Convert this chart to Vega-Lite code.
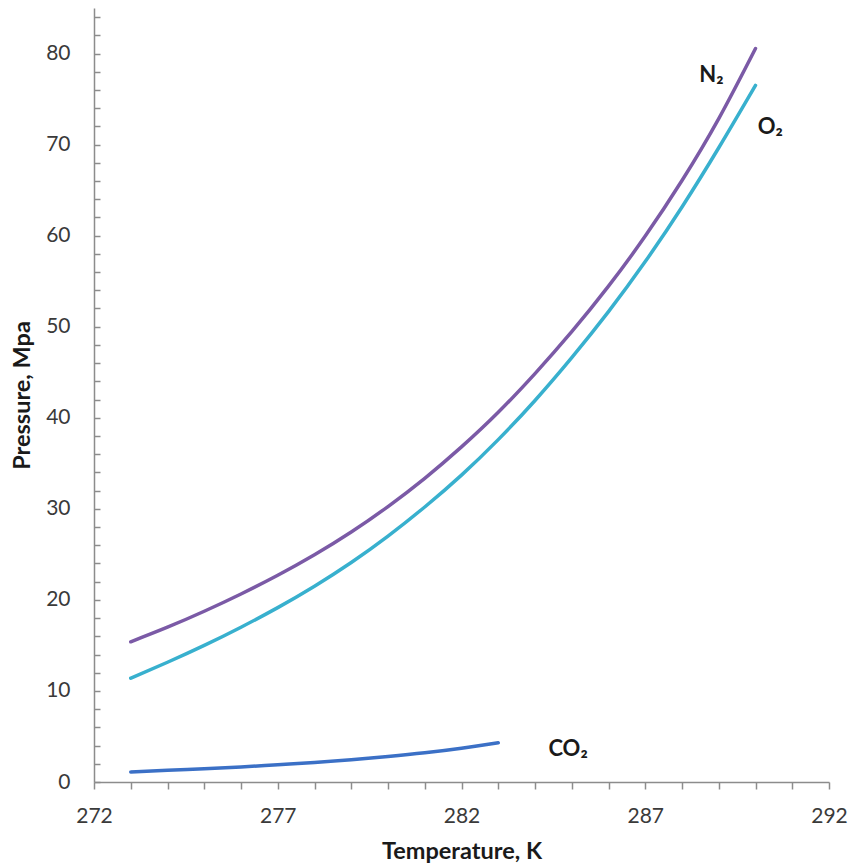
{
  "$schema": "https://vega.github.io/schema/vega-lite/v6.json",
  "width": 735,
  "height": 774,
  "autosize": {"type": "none"},
  "padding": {"left": 94, "top": 8, "right": 20, "bottom": 86},
  "background": "white",
  "config": {
    "view": {"stroke": null},
    "font": "Lato",
    "axis": {
      "grid": false,
      "domainColor": "#8c8c8c",
      "domainWidth": 1.5,
      "tickColor": "#8c8c8c",
      "tickWidth": 1.5,
      "tickCount": 200,
      "format": "d",
      "labelFlush": false,
      "labelFont": "Lato",
      "labelFontSize": 21,
      "labelColor": "#3a3a3a",
      "titleFont": "Lato",
      "titleFontSize": 23.5,
      "titleFontWeight": "bold",
      "titleColor": "#1a1a1a",
      "labelOverlap": false
    }
  },
  "datasets": {
    "curves": [
      {"gas": "N2", "T": 273, "P": 15.4},
      {"gas": "N2", "T": 274, "P": 17.0},
      {"gas": "N2", "T": 275, "P": 18.75},
      {"gas": "N2", "T": 276, "P": 20.65},
      {"gas": "N2", "T": 277, "P": 22.7},
      {"gas": "N2", "T": 278, "P": 24.95},
      {"gas": "N2", "T": 279, "P": 27.45},
      {"gas": "N2", "T": 280, "P": 30.25},
      {"gas": "N2", "T": 281, "P": 33.35},
      {"gas": "N2", "T": 282, "P": 36.8},
      {"gas": "N2", "T": 283, "P": 40.6},
      {"gas": "N2", "T": 284, "P": 44.85},
      {"gas": "N2", "T": 285, "P": 49.45},
      {"gas": "N2", "T": 286, "P": 54.45},
      {"gas": "N2", "T": 287, "P": 59.95},
      {"gas": "N2", "T": 288, "P": 66.05},
      {"gas": "N2", "T": 289, "P": 72.85},
      {"gas": "N2", "T": 290, "P": 80.55},
      {"gas": "O2", "T": 273, "P": 11.4},
      {"gas": "O2", "T": 274, "P": 13.15},
      {"gas": "O2", "T": 275, "P": 15.0},
      {"gas": "O2", "T": 276, "P": 17.0},
      {"gas": "O2", "T": 277, "P": 19.15},
      {"gas": "O2", "T": 278, "P": 21.5},
      {"gas": "O2", "T": 279, "P": 24.1},
      {"gas": "O2", "T": 280, "P": 27.0},
      {"gas": "O2", "T": 281, "P": 30.2},
      {"gas": "O2", "T": 282, "P": 33.7},
      {"gas": "O2", "T": 283, "P": 37.6},
      {"gas": "O2", "T": 284, "P": 41.9},
      {"gas": "O2", "T": 285, "P": 46.6},
      {"gas": "O2", "T": 286, "P": 51.65},
      {"gas": "O2", "T": 287, "P": 57.15},
      {"gas": "O2", "T": 288, "P": 63.15},
      {"gas": "O2", "T": 289, "P": 69.65},
      {"gas": "O2", "T": 290, "P": 76.5},
      {"gas": "CO2", "T": 273, "P": 1.1},
      {"gas": "CO2", "T": 274, "P": 1.3},
      {"gas": "CO2", "T": 275, "P": 1.45},
      {"gas": "CO2", "T": 276, "P": 1.65},
      {"gas": "CO2", "T": 277, "P": 1.9},
      {"gas": "CO2", "T": 278, "P": 2.15},
      {"gas": "CO2", "T": 279, "P": 2.45},
      {"gas": "CO2", "T": 280, "P": 2.8},
      {"gas": "CO2", "T": 281, "P": 3.2},
      {"gas": "CO2", "T": 282, "P": 3.7},
      {"gas": "CO2", "T": 283, "P": 4.3}
    ],
    "labels": [
      {"text": "N₂", "T": 288.8, "P": 77.6},
      {"text": "O₂", "T": 290.4, "P": 71.9},
      {"text": "CO₂", "T": 284.9, "P": 3.6}
    ]
  },
  "layer": [
    {
      "data": {"name": "curves"},
      "mark": {"type": "line", "interpolate": "natural", "strokeCap": "round"},
      "encoding": {
        "x": {
          "field": "T",
          "type": "quantitative",
          "scale": {"domain": [272, 292], "nice": false, "zero": false},
          "axis": {
            "title": "Temperature, K",
            "values": [272, 273, 274, 275, 276, 277, 278, 279, 280, 281, 282, 283, 284, 285, 286, 287, 288, 289, 290, 291, 292],
            "labelExpr": "(datum.value - 272) % 5 === 0 ? datum.label : ''",
            "tickSize": 7,
            "labelPadding": 16,
            "titlePadding": 13
          }
        },
        "y": {
          "field": "P",
          "type": "quantitative",
          "scale": {"domain": [0, 85], "nice": false},
          "axis": {
            "title": "Pressure, Mpa",
            "values": [0, 2, 4, 6, 8, 10, 12, 14, 16, 18, 20, 22, 24, 26, 28, 30, 32, 34, 36, 38, 40, 42, 44, 46, 48, 50, 52, 54, 56, 58, 60, 62, 64, 66, 68, 70, 72, 74, 76, 78, 80, 82, 84],
            "labelExpr": "datum.value % 10 === 0 ? datum.label : ''",
            "tickSize": -6,
            "labelPadding": 30,
            "titlePadding": 11
          }
        },
        "color": {
          "field": "gas",
          "type": "nominal",
          "scale": {"domain": ["N2", "O2", "CO2"], "range": ["#7B5AA6", "#38B0CE", "#3B70C6"]},
          "legend": null
        },
        "strokeWidth": {
          "field": "gas",
          "type": "nominal",
          "scale": {"domain": ["N2", "O2", "CO2"], "range": [3.5, 3.5, 4.5]},
          "legend": null
        },
        "detail": {"field": "gas"}
      }
    },
    {
      "data": {"name": "labels"},
      "mark": {"type": "text", "fontWeight": "bold", "fontSize": 22, "color": "#1a1a1a", "font": "Lato"},
      "encoding": {
        "x": {"field": "T", "type": "quantitative"},
        "y": {"field": "P", "type": "quantitative"},
        "text": {"field": "text"}
      }
    }
  ]
}
